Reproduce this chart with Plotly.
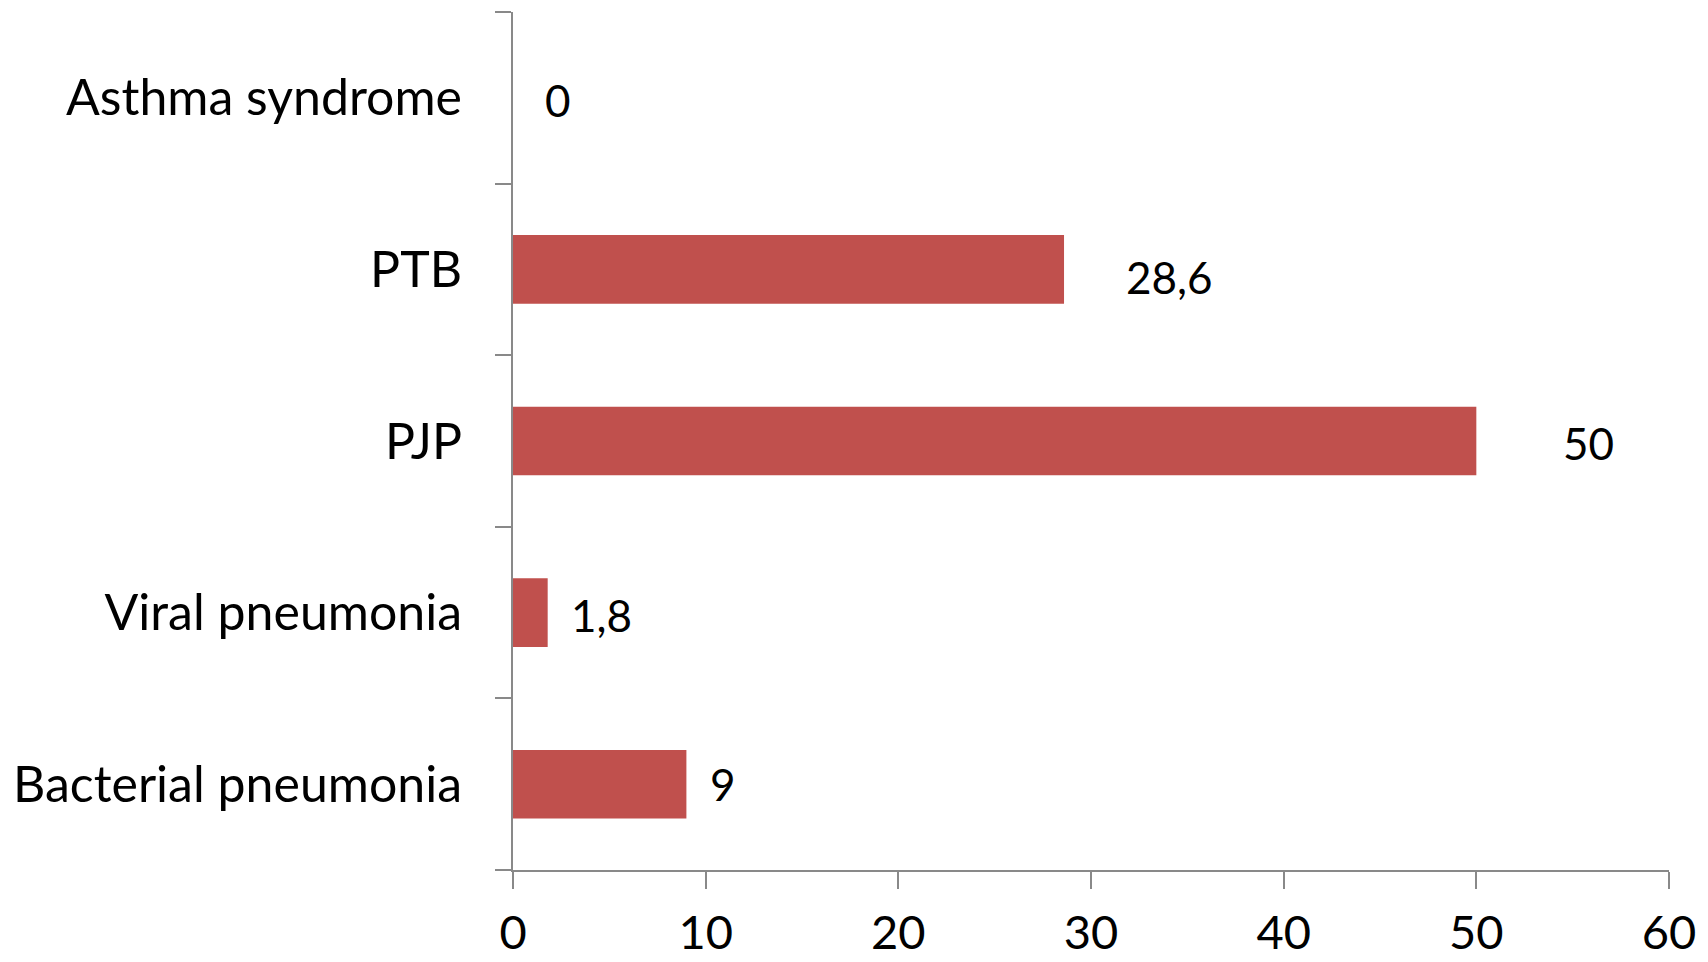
import plotly.graph_objects as go

# Share of patients by diagnosis (%), bottom to top
categories = ["Bacterial pneumonia", "Viral pneumonia", "PJP", "PTB", "Asthma syndrome"]
values = [9, 1.8, 50, 28.6, 0]
value_labels = ["9", "1,8", "50", "28,6", "0"]

x_ticks = [0, 10, 20, 30, 40, 50, 60]

BAR_COLOR = "#C0504D"
AXIS_COLOR = "#898989"
FONT = "Lato, Calibri, sans-serif"

# horizontal pixel offsets of value labels from bar ends
label_xshift = [22, 21, 85, 60, 30]
label_yshift = [0, -2, -2, -8, -2]

fig = go.Figure()
fig.add_trace(go.Bar(
    x=values,
    y=categories,
    orientation="h",
    marker=dict(color=BAR_COLOR, line=dict(width=0)),
    hoverinfo="x+y",
))

for cat, v, lbl, dx, dy in zip(categories, values, value_labels, label_xshift, label_yshift):
    fig.add_annotation(
        x=v, y=cat, text=lbl, showarrow=False,
        xanchor="left", yanchor="middle",
        xshift=dx, yshift=dy,
        font=dict(family=FONT, size=44, color="#000000"),
    )

fig.update_layout(
    width=1708, height=962,
    margin=dict(l=513, r=39, t=12, b=92),
    paper_bgcolor="#FFFFFF",
    plot_bgcolor="#FFFFFF",
    bargap=0.6,
    showlegend=False,
    font=dict(family=FONT, color="#000000"),
)

fig.update_xaxes(
    range=[0, 60],
    tickvals=x_ticks,
    ticktext=[str(t) for t in x_ticks],
    showgrid=False, zeroline=False,
    showline=True, linecolor=AXIS_COLOR, linewidth=2,
    ticks="outside", ticklen=17, tickwidth=2, tickcolor=AXIS_COLOR,
    tickfont=dict(family=FONT, size=47, color="#000000"),
    ticklabelstandoff=4,
    automargin=False,
)
fig.update_yaxes(
    categoryorder="array", categoryarray=categories,
    showgrid=False, zeroline=False,
    showline=True, linecolor=AXIS_COLOR, linewidth=2,
    ticks="outside", ticklen=16, tickwidth=2, tickcolor=AXIS_COLOR,
    tickson="boundaries",
    tickfont=dict(family=FONT, size=50, color="#000000"),
    ticklabelstandoff=39,
    automargin=False,
)

fig.write_html("out.html")
